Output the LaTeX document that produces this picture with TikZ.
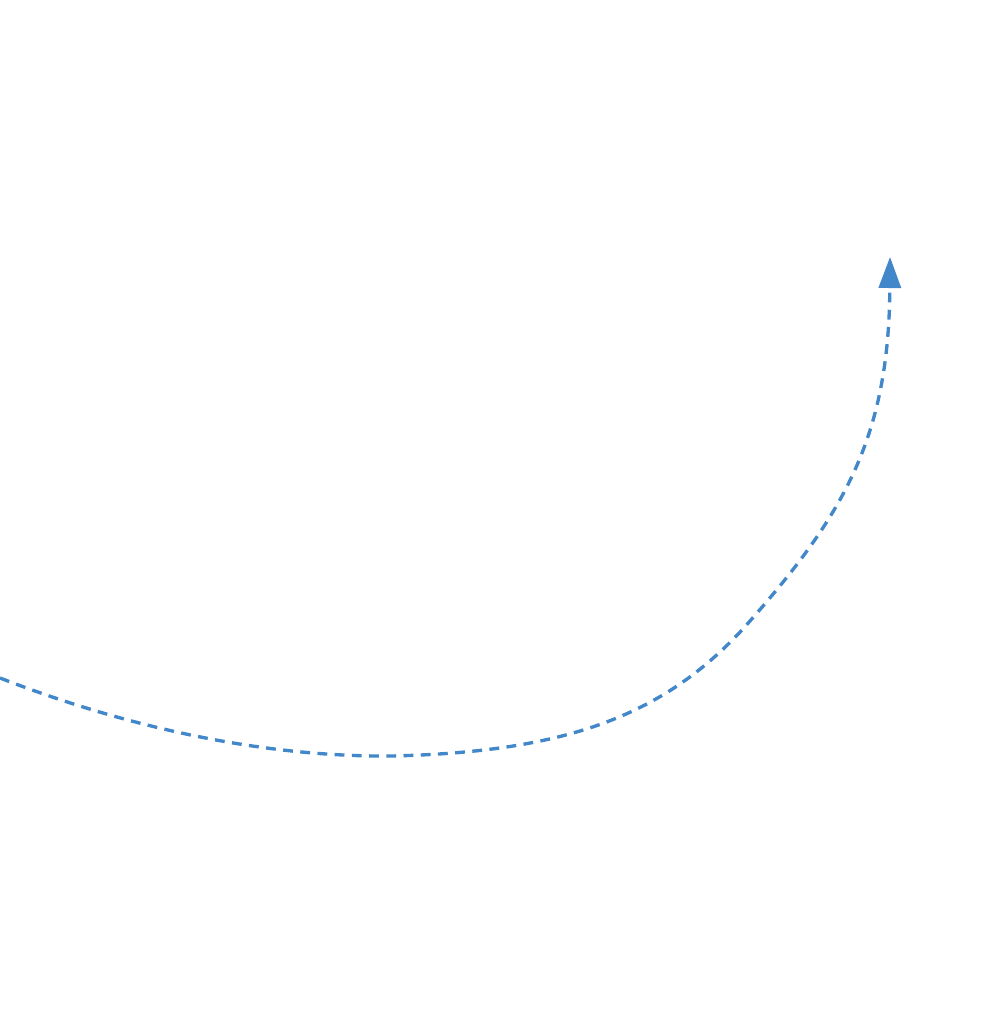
\documentclass[tikz,border=0pt]{standalone}
\usepackage{tikz}
\usetikzlibrary{arrows.meta}
\definecolor{curveblue}{HTML}{4187CA}
\tikzset{
  loopflow/.style={draw=curveblue,line width=0.95pt,
                   dash pattern=on 2.8pt off 2.1pt,
                   -{Triangle[length=3.1mm,width=2.2mm,fill=curveblue]}}
}
\begin{document}
\begin{tikzpicture}[x=0.01cm,y=-0.01cm]
  \useasboundingbox (0,0) rectangle (989,1031);
  \coordinate (start) at (0,678);
  \coordinate (low) at (392,756);
  \coordinate (bend) at (742,630);
  \coordinate (tip) at (890,257);
  \draw[loopflow] (start) .. controls (160,740) and (295,757) .. (low)
    .. controls (565,752) and (662,716) .. (bend)
    .. controls (842,518) and (889,440) .. (tip);
\end{tikzpicture}
\end{document}
